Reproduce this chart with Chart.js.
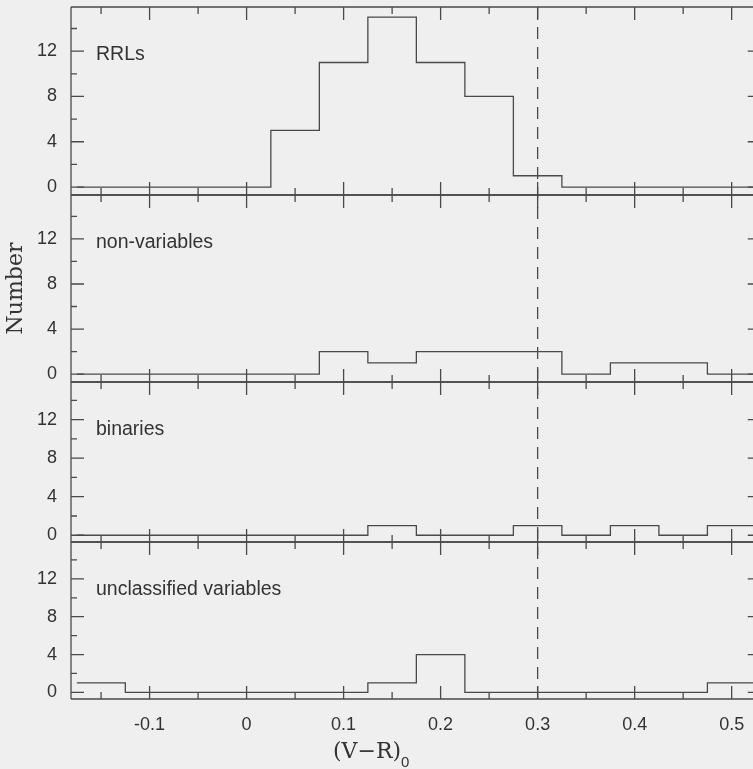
<!DOCTYPE html>
<html>
<head>
<meta charset="utf-8">
<script src="https://cdn.jsdelivr.net/npm/chart.js@4.4.1/dist/chart.umd.min.js"></script>
<style>
  html, body { margin: 0; padding: 0; background: #efefef; }
  canvas { display: block; }
</style>
</head>
<body>
<canvas id="hist" width="753" height="769"></canvas>
<script>
// bins of (V-R)_0, width 0.05
const binCenters = [-0.15, -0.1, -0.05, 0, 0.05, 0.1, 0.15, 0.2, 0.25, 0.3, 0.35, 0.4, 0.45, 0.5];
const binWidth = 0.05;

const rrls         = [0, 0, 0, 0, 5, 11, 15, 11, 8, 1, 0, 0, 0, 0];
const nonVariables = [0, 0, 0, 0, 0, 2, 1, 2, 2, 2, 0, 1, 1, 0];
const binaries     = [0, 0, 0, 0, 0, 0, 1, 0, 0, 1, 0, 1, 0, 1];
const unclassified = [1, 0, 0, 0, 0, 0, 1, 4, 0, 0, 0, 0, 0, 1];

const panelNames = ["RRLs", "non-variables", "binaries", "unclassified variables"];

const xMajorTicks = [-0.1, 0, 0.1, 0.2, 0.3, 0.4, 0.5];
const xMinorTicks = [-0.15, -0.05, 0.05, 0.15, 0.25, 0.35, 0.45];
const yMajorTicks = [0, 4, 8, 12];
const yMinorTicks = [2, 6, 10, 14];
const cutColour = 0.3;
const xFrameMax = 0.53; // right frame sits just past the cropped edge

const ink = "#4a4a4a";
const textInk = "#333333";

// turn counts into step points on the bin edges
function toSteps(counts) {
  const pts = binCenters.map((c, i) => ({ x: c - binWidth / 2, y: counts[i] }));
  const last = binCenters.length - 1;
  pts.push({ x: binCenters[last] + binWidth / 2, y: counts[last] });
  return pts;
}

// y axes, top panel last (left boxes are stacked in reverse order)
const panelIds = ["yR", "yN", "yB", "yU"];
const panelWeights = { yR: 188, yN: 187, yB: 160, yU: 157 };

function noPadding(s) {
  s.paddingTop = 0; s.paddingBottom = 0;
  s.paddingLeft = 0; s.paddingRight = 0;
}

function yAxis(id) {
  return {
    type: "linear",
    position: "left",
    stack: "panels",
    stackWeight: panelWeights[id],
    min: -0.7,
    max: 15.9,
    grid: { display: false, drawTicks: false },
    border: { display: false },
    ticks: { padding: 14, color: textInk, font: { size: 18 } },
    afterBuildTicks: s => { s.ticks = yMajorTicks.map(v => ({ value: v })); },
    afterFit: s => { s.width = 71; noPadding(s); }
  };
}

const framePlugin = {
  id: "framePlugin",
  afterDatasetsDraw(chart) {
    const { ctx, chartArea, scales } = chart;
    const x = scales.x;
    const left = chartArea.left;
    const right = x.getPixelForValue(xFrameMax);
    ctx.save();
    ctx.strokeStyle = ink;
    ctx.lineWidth = 1.3;
    ctx.fillStyle = textInk;
    ctx.font = '19.5px "Liberation Sans", Arial, sans-serif';
    ctx.textBaseline = "middle";
    ctx.textAlign = "left";

    panelIds.forEach((id, i) => {
      const y = scales[id];
      const top = y.top, bottom = y.bottom;
      ctx.beginPath();
      ctx.moveTo(left, top); ctx.lineTo(right, top);
      ctx.moveTo(left, bottom); ctx.lineTo(right, bottom);
      ctx.moveTo(left, top); ctx.lineTo(left, bottom);
      ctx.moveTo(right, top); ctx.lineTo(right, bottom);
      xMajorTicks.forEach(v => {
        const px = x.getPixelForValue(v);
        ctx.moveTo(px, top); ctx.lineTo(px, top + 13);
        ctx.moveTo(px, bottom); ctx.lineTo(px, bottom - 13);
      });
      xMinorTicks.forEach(v => {
        const px = x.getPixelForValue(v);
        ctx.moveTo(px, top); ctx.lineTo(px, top + 7);
        ctx.moveTo(px, bottom); ctx.lineTo(px, bottom - 7);
      });
      yMajorTicks.forEach(v => {
        const py = y.getPixelForValue(v);
        ctx.moveTo(left, py); ctx.lineTo(left + 13, py);
        ctx.moveTo(right, py); ctx.lineTo(right - 13, py);
      });
      yMinorTicks.forEach(v => {
        const py = y.getPixelForValue(v);
        ctx.moveTo(left, py); ctx.lineTo(left + 6, py);
        ctx.moveTo(right, py); ctx.lineTo(right - 6, py);
      });
      ctx.stroke();
      ctx.fillText(panelNames[i], left + 25, top + 48);
    });

    // dashed line at the colour cut
    const cx = x.getPixelForValue(cutColour);
    ctx.setLineDash([12, 8]);
    ctx.beginPath();
    ctx.moveTo(cx, chartArea.top);
    ctx.lineTo(cx, chartArea.bottom);
    ctx.stroke();
    ctx.setLineDash([]);

    // axis titles
    ctx.font = '22px "DejaVu Serif", serif';
    ctx.textAlign = "center";
    ctx.save();
    ctx.translate(16, (scales.yN.top + scales.yN.bottom) / 2);
    ctx.rotate(-Math.PI / 2);
    ctx.fillText("Number", 0, 0);
    ctx.restore();

    ctx.textAlign = "left";
    ctx.textBaseline = "alphabetic";
    ctx.fillText("(V\u2212R)", 333, 758);
    ctx.font = '15px "Liberation Sans", Arial, sans-serif';
    ctx.fillText("0", 401, 767);
    ctx.restore();
  }
};

Chart.defaults.font.family = '"Liberation Sans", Arial, sans-serif';
Chart.defaults.color = textInk;

const series = [unclassified, binaries, nonVariables, rrls];
const seriesAxes = ["yU", "yB", "yN", "yR"];

const scales = {
  x: {
    type: "linear",
    position: "bottom",
    min: -0.181,
    max: 0.522,
    grid: { display: false, drawTicks: false },
    border: { display: false },
    ticks: { padding: 15, color: textInk, font: { size: 18 } },
    afterBuildTicks: s => { s.ticks = xMajorTicks.map(v => ({ value: v })); },
    afterFit: s => { s.height = 70; noPadding(s); }
  }
};
["yU", "yB", "yN", "yR"].forEach(id => { scales[id] = yAxis(id); });

new Chart(document.getElementById("hist"), {
  type: "line",
  data: {
    datasets: series.map((counts, i) => ({
      label: panelNames[3 - i],
      data: toSteps(counts),
      yAxisID: seriesAxes[i],
      xAxisID: "x",
      stepped: "before",
      borderColor: ink,
      borderWidth: 1.3,
      pointRadius: 0,
      fill: false,
      clip: false
    }))
  },
  options: {
    responsive: false,
    animation: false,
    layout: { padding: { left: 0, top: 7, right: 0, bottom: 0 } },
    plugins: { legend: { display: false }, tooltip: { enabled: false } },
    scales: scales
  },
  plugins: [framePlugin]
});
</script>
</body>
</html>
